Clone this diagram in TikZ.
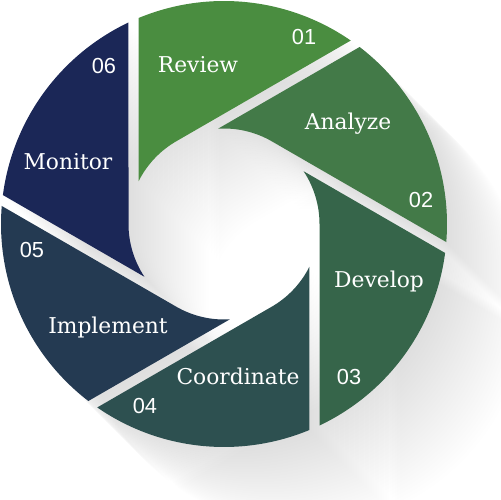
\documentclass[tikz,border=0pt]{standalone}
\usepackage{fontspec}
\setmainfont{DejaVu Serif}
\newfontfamily\numfont{Liberation Sans}
\definecolor{cReview}{HTML}{4A8D40}
\definecolor{cAnalyze}{HTML}{437A48}
\definecolor{cDevelop}{HTML}{36654A}
\definecolor{cCoord}{HTML}{2D5050}
\definecolor{cImpl}{HTML}{243A52}
\definecolor{cMonitor}{HTML}{1B2757}
% one shutter blade, #1 = index (0 = top, clockwise)
\newcommand\bladeshape[1]{({55.36-60*#1}:223) arc[start angle={55.36-60*#1}, end angle={112.54-60*#1}, radius=223] -- ({153.54-60*#1}:95.5) arc[start angle={153.54-60*#1}, end angle={120-60*#1}, radius=95.5] -- cycle}
\begin{document}
\begin{tikzpicture}[x=0.02cm, y=0.02cm,
  lbl/.style={text=white, font=\fontsize{12.4}{14}\selectfont, anchor=base, inner sep=0pt},
  num/.style={text=white, font=\numfont\fontsize{12.4}{14}\selectfont, anchor=base, inner sep=0pt},
  shadowpart/.style={fill=black, fill opacity=0.0036}]
\useasboundingbox (0,0) rectangle (500,500);
\foreach \t in {2.5,5,...,80} {
  \begin{scope}[shift={(224+\t,276-\t)}]
    \fill[shadowpart] \bladeshape{0} \bladeshape{1} \bladeshape{2} \bladeshape{3} \bladeshape{4} \bladeshape{5};
  \end{scope}
}
\begin{scope}[shift={(224,276)}]
  \fill[cReview] \bladeshape{0};
  \fill[cAnalyze] \bladeshape{1};
  \fill[cDevelop] \bladeshape{2};
  \fill[cCoord] \bladeshape{3};
  \fill[cImpl] \bladeshape{4};
  \fill[cMonitor] \bladeshape{5};
\end{scope}
\node[lbl] (review) at (198,427) {Review};
\node[num] (n01) at (304,455) {01};
\node[lbl] (analyze) at (348,370) {Analyze};
\node[num] (n02) at (421,292) {02};
\node[lbl] (develop) at (379,212) {Develop};
\node[num] (n03) at (349,115) {03};
\node[lbl] (coord) at (238,115) {Coordinate};
\node[num] (n04) at (145,86) {04};
\node[lbl] (impl) at (108,166) {Implement};
\node[num] (n05) at (32,242) {05};
\node[lbl] (monitor) at (68,330) {Monitor};
\node[num] (n06) at (104,426) {06};
\end{tikzpicture}
\end{document}
